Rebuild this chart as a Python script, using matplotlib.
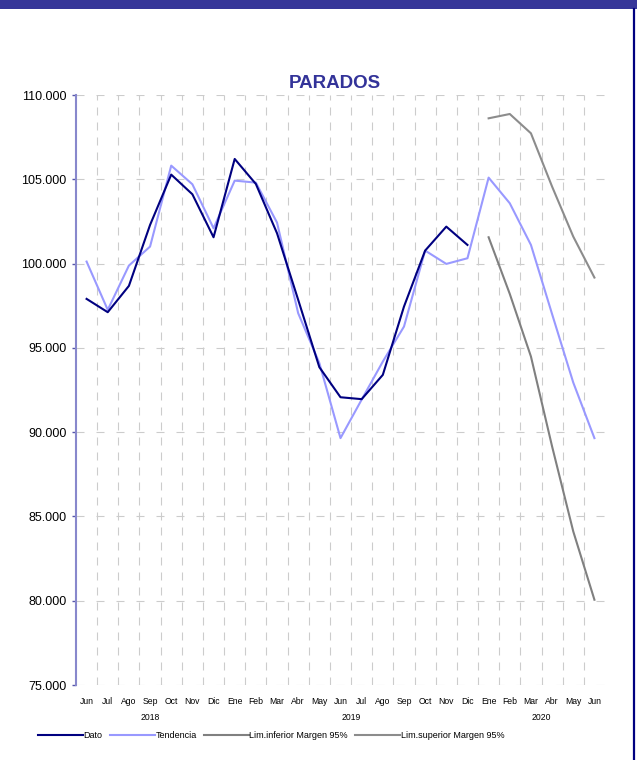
import numpy as np
import matplotlib.pyplot as plt
from matplotlib.lines import Line2D
from matplotlib.patches import Rectangle
from matplotlib.ticker import FuncFormatter

plt.rcParams['font.family'] = ['Liberation Sans', 'DejaVu Sans']

# Meses (jun 2018 - jun 2020)
meses = ['Jun', 'Jul', 'Ago', 'Sep', 'Oct', 'Nov', 'Dic',
         'Ene', 'Feb', 'Mar', 'Abr', 'May', 'Jun', 'Jul', 'Ago', 'Sep', 'Oct', 'Nov', 'Dic',
         'Ene', 'Feb', 'Mar', 'Abr', 'May', 'Jun']
anios = ['2018', '2019', '2020']
anios_centro = [3, 12.5, 21.5]

dato = [97905, 97115, 98676, 102292, 105277, 104111, 101561,
        106206, 104723, 101798, 97850, 93854, 92070, 91957, 93398, 97448, 100770, 102192, 101106,
        None, None, None, None, None, None]
tendencia = [100119, 97253, 99881, 101008, 105810, 104704, 102095,
             104921, 104802, 102431, 97055, 94100, 89645, 91930, 94187, 96262, 100770, 99980, 100316,
             105099, 103577, 101106, 97000, 92942, 89645]
lim_inf = [None] * 19 + [101561, 98200, 94486, 89150, 84110, 80058]
lim_sup = [None] * 19 + [108617, 108873, 107727, 104565, 101601, 99170]

def serie(v):
    return np.array([np.nan if a is None else a for a in v], dtype=float)

x = np.arange(len(meses))

fig = plt.figure(figsize=(6.37, 7.6), dpi=100)
ax = fig.add_axes([76/637, 1 - 685/760, 529/637, 590/760])

# barra superior y borde derecho
fig.add_artist(Rectangle((0, 1 - 9/760), 1, 9/760, transform=fig.transFigure,
                         facecolor='#363699', edgecolor='none'))
fig.add_artist(Line2D([634/637, 634/637], [0, 1 - 9/760], transform=fig.transFigure,
                      color='#000080', lw=1.6))

# rejilla
px = 0.72
for k in range(1, len(meses)):
    ax.axvline(k - 0.5, color='#CCCCCC', lw=0.8, dashes=(8*px/0.8, 7*px/0.8), zorder=0)
for yv in range(75000, 110001, 5000):
    ax.axhline(yv, color='#CCCCCC', lw=0.8, dashes=(8*px/0.8, 12*px/0.8), zorder=0)

ax.plot(x, serie(dato), color='#000080', lw=1.5, label='Dato', zorder=4)
ax.plot(x, serie(tendencia), color='#9999FF', lw=1.5, label='Tendencia', zorder=3)
ax.plot(x, serie(lim_inf), color='#808080', lw=1.5, label='Lim.inferior Margen 95%', zorder=2)
ax.plot(x, serie(lim_sup), color='#8C8C8C', lw=1.5, label='Lim.superior Margen 95%', zorder=2)

ax.set_xlim(-0.5, len(meses) - 0.5)
ax.set_ylim(75000, 110000)
ax.set_yticks(range(75000, 110001, 5000))
ax.yaxis.set_major_formatter(FuncFormatter(lambda v, p: f'{int(v):,}'.replace(',', '.')))
ax.tick_params(axis='y', labelsize=9, length=3, width=1, color='#5555AA', pad=4)
ax.set_xticks(x)
ax.set_xticklabels(meses, fontsize=6.2)
ax.tick_params(axis='x', length=0, pad=9)

for s in ['top', 'right', 'bottom']:
    ax.spines[s].set_visible(False)
ax.spines['left'].set_color('#8888CC')
ax.spines['left'].set_linewidth(1.5)

for a, c in zip(anios, anios_centro):
    ax.text(c, (685 - 717) / 590, a, transform=ax.get_xaxis_transform(),
            ha='center', va='center', fontsize=6.2)

fig.text(335/637, 1 - 83/760, 'PARADOS', ha='center', va='center',
         fontsize=13.5, fontweight='bold', color='#333399')

ax.legend(loc='center left', bbox_to_anchor=(38/637, 1 - 736/760), bbox_transform=fig.transFigure,
          ncol=4, frameon=False, fontsize=6.5, handlelength=5.0, handletextpad=0.05,
          columnspacing=0.8, borderpad=0, borderaxespad=0)

fig.savefig('out.png', dpi=100)
